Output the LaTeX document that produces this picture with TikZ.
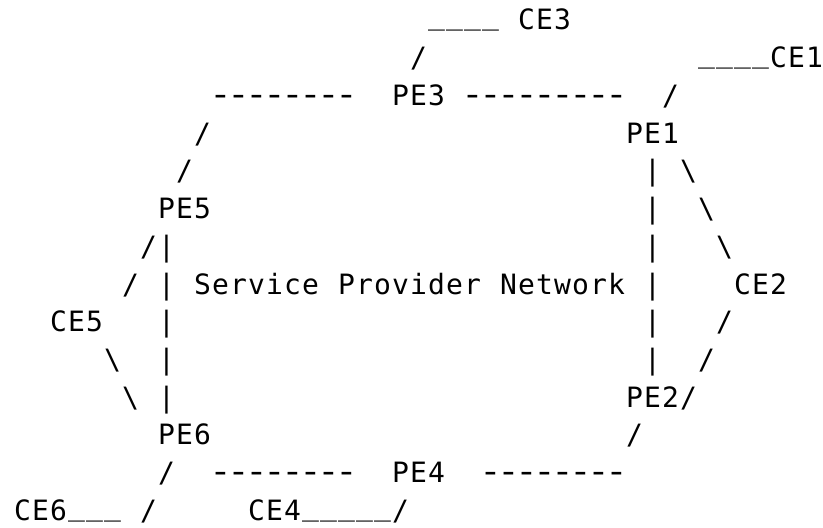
\documentclass[tikz,border=0pt]{standalone}
\usepackage{fontspec}
\usepackage{graphicx}
\newfontfamily\asciifont{DejaVu Sans Mono}
\newlength\cw
\setlength\cw{18pt}
% set each character in a fixed-width cell, like a character grid
\def\monostop{mono@stop}
\def\monoloop#1{\ifx#1\monostop\else\makebox[\cw][c]{#1}\expandafter\monoloop\fi}
\newcommand\mono[1]{\monoloop#1\monostop}
% underscore sitting just under the baseline, and a slightly wider hyphen
\newcommand\us{\raisebox{5pt}{\_}}
\newcommand\hy{\scalebox{1.35}[1.15]{-}}
\tikzset{
  txt/.style={inner sep=0pt, outer sep=0pt, anchor=base west,
    font=\asciifont\fontsize{28}{28}\selectfont, text=black},
}
% column c, row r of the character grid
\newcommand\gridpos[2]{({13.5+18*#1},{498-37.72*#2})}
\begin{document}
\begin{tikzpicture}[x=1pt,y=1pt]
\useasboundingbox (0,0) rectangle (823,528);
% row 0
\node[txt] (ce3line) at \gridpos{23}{0} {\mono{\us\us\us\us}};
\node[txt] (ce3) at \gridpos{28}{0} {\mono{CE3}};
% row 1
\node[txt] (s1a) at \gridpos{22}{1} {\mono{/}};
\node[txt] (ce1) at \gridpos{38}{1} {\mono{\us\us\us\us CE1}};
% row 2
\node[txt] (d2a) at \gridpos{11}{2} {\mono{\hy\hy\hy\hy\hy\hy\hy\hy}};
\node[txt] (pe3) at \gridpos{21}{2} {\mono{PE3}};
\node[txt] (d2b) at \gridpos{25}{2} {\mono{\hy\hy\hy\hy\hy\hy\hy\hy\hy}};
\node[txt] (s2a) at \gridpos{36}{2} {\mono{/}};
% row 3
\node[txt] (s3a) at \gridpos{10}{3} {\mono{/}};
\node[txt] (pe1) at \gridpos{34}{3} {\mono{PE1}};
% row 4
\node[txt] (s4a) at \gridpos{9}{4} {\mono{/}};
\node[txt] (b4a) at \gridpos{35}{4} {\mono{|}};
\node[txt] (k4a) at \gridpos{37}{4} {\mono{\textbackslash}};
% row 5
\node[txt] (pe5) at \gridpos{8}{5} {\mono{PE5}};
\node[txt] (b5a) at \gridpos{35}{5} {\mono{|}};
\node[txt] (k5a) at \gridpos{38}{5} {\mono{\textbackslash}};
% row 6
\node[txt] (s6a) at \gridpos{7}{6} {\mono{/|}};
\node[txt] (b6a) at \gridpos{35}{6} {\mono{|}};
\node[txt] (k6a) at \gridpos{39}{6} {\mono{\textbackslash}};
% row 7
\node[txt] (s7a) at \gridpos{6}{7} {\mono{/}};
\node[txt] (b7a) at \gridpos{8}{7} {\mono{|}};
\node[txt] (spn1) at \gridpos{10}{7} {\mono{Service}};
\node[txt] (spn2) at \gridpos{18}{7} {\mono{Provider}};
\node[txt] (spn3) at \gridpos{27}{7} {\mono{Network}};
\node[txt] (b7b) at \gridpos{35}{7} {\mono{|}};
\node[txt] (ce2) at \gridpos{40}{7} {\mono{CE2}};
% row 8
\node[txt] (ce5) at \gridpos{2}{8} {\mono{CE5}};
\node[txt] (b8a) at \gridpos{8}{8} {\mono{|}};
\node[txt] (b8b) at \gridpos{35}{8} {\mono{|}};
\node[txt] (s8a) at \gridpos{39}{8} {\mono{/}};
% row 9
\node[txt] (k9a) at \gridpos{5}{9} {\mono{\textbackslash}};
\node[txt] (b9a) at \gridpos{8}{9} {\mono{|}};
\node[txt] (b9b) at \gridpos{35}{9} {\mono{|}};
\node[txt] (s9a) at \gridpos{38}{9} {\mono{/}};
% row 10
\node[txt] (k10a) at \gridpos{6}{10} {\mono{\textbackslash}};
\node[txt] (b10a) at \gridpos{8}{10} {\mono{|}};
\node[txt] (pe2) at \gridpos{34}{10} {\mono{PE2/}};
% row 11
\node[txt] (pe6) at \gridpos{8}{11} {\mono{PE6}};
\node[txt] (s11a) at \gridpos{34}{11} {\mono{/}};
% row 12
\node[txt] (s12a) at \gridpos{8}{12} {\mono{/}};
\node[txt] (d12a) at \gridpos{11}{12} {\mono{\hy\hy\hy\hy\hy\hy\hy\hy}};
\node[txt] (pe4) at \gridpos{21}{12} {\mono{PE4}};
\node[txt] (d12b) at \gridpos{26}{12} {\mono{\hy\hy\hy\hy\hy\hy\hy\hy}};
% row 13
\node[txt] (ce6) at \gridpos{0}{13} {\mono{CE6\us\us\us}};
\node[txt] (s13a) at \gridpos{7}{13} {\mono{/}};
\node[txt] (ce4) at \gridpos{13}{13} {\mono{CE4\us\us\us\us\us/}};
\end{tikzpicture}
\end{document}
